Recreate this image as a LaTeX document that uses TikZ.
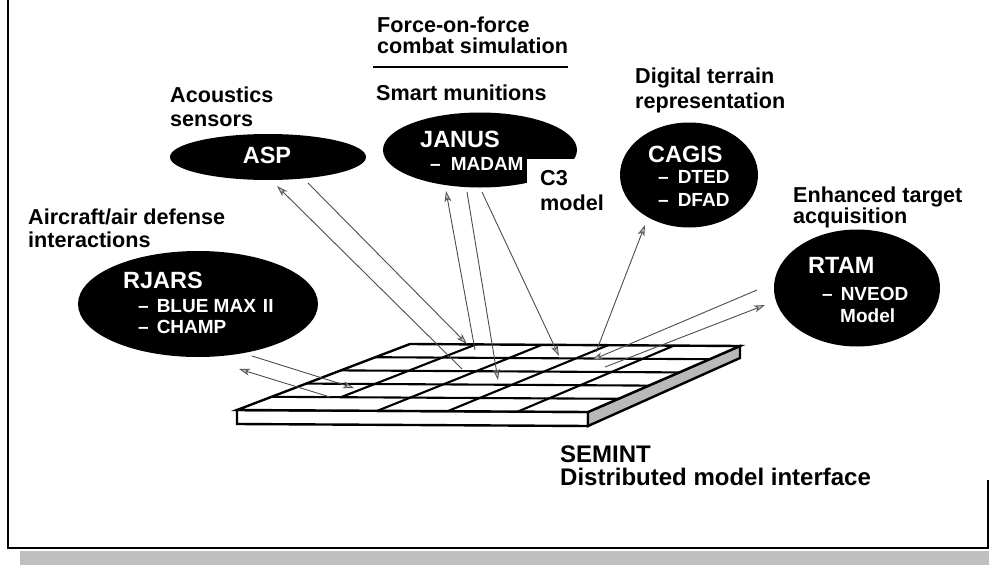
\documentclass[tikz,border=0pt]{standalone}
\usepackage{fontspec}
\setmainfont{Liberation Sans}
\usetikzlibrary{calc,arrows.meta,shapes.geometric}
\begin{document}
\begin{tikzpicture}[x=1pt,y=-1pt,
  lab/.style={anchor=base west,inner sep=0pt,font=\fontsize{21.6}{24}\selectfont\bfseries},
  big/.style={anchor=base west,inner sep=0pt,font=\fontsize{24}{26}\selectfont\bfseries},
  nm/.style={anchor=base west,inner sep=0pt,text=white,font=\fontsize{23.5}{26}\selectfont\bfseries},
  sub/.style={anchor=base west,inner sep=0pt,text=white,font=\fontsize{19}{22}\selectfont\bfseries},
  blob/.style={ellipse,fill=black,draw=none,inner sep=0pt},
  link/.style={draw=black!70,line width=0.9pt,-{Stealth[length=11pt,width=7pt,inset=3pt,fill=gray!45,color=black!65]}},
  edge3/.style={line width=2.4pt,line join=miter},
  gridln/.style={line width=2.1pt,line cap=butt}]
\useasboundingbox (0,0) rectangle (989,565);
% frame
\draw[line width=2pt] (8,0) -- (8,548) -- (988,548) -- (988,480);
\fill[gray!50] (20,551) rectangle (989,565);

% slab
\coordinate (FL) at (237,410);
\coordinate (FR) at (588,412);
\coordinate (BR) at (740,346);
\coordinate (BL) at (410,344);
\coordinate (FLb) at (237,424);
\coordinate (FRb) at (588,426);
\coordinate (BRb) at (740,358);
\draw[edge3,fill=white] (FL) -- (FR) -- (FRb) -- (FLb) -- cycle;
\draw[edge3,fill=gray!55] (FR) -- (BR) -- (BRb) -- (FRb) -- cycle;
\draw[edge3,fill=white] (FL) -- (FR) -- (BR) -- (BL) -- cycle;
\foreach \v in {0.2,0.4,0.6,0.8}
  \draw[gridln] ($(FL)!\v!(BL)$) -- ($(FR)!\v!(BR)$);
\foreach \va/\vb/\ulist in {0/0.2/{0.4,0.6,0.8},0.2/1/{0.2,0.4,0.6,0.8}}{
  \foreach \u in \ulist {
    \draw[gridln] ($($(FL)!\u!(FR)$)!\va!($(BL)!\u!(BR)$)$) -- ($($(FL)!\u!(FR)$)!\vb!($(BL)!\u!(BR)$)$);
  }
}

% ellipses
\node[blob,minimum width=196pt,minimum height=46pt] (asp) at (268,157) {};
\node[blob,minimum width=194pt,minimum height=75pt] (janus) at (480,150) {};
\fill[white] (527,159) rectangle (586,193);
\node[blob,minimum width=138pt,minimum height=105pt] (cagis) at (689,175) {};
\node[blob,minimum width=166pt,minimum height=117pt] (rtam) at (857,288) {};
\node[blob,minimum width=240pt,minimum height=106pt] (rjars) at (198,304) {};

% ellipse texts
\node[nm,anchor=base] (asptx) at (267,163) {ASP};
\node[nm] (janustx) at (420,147) {JANUS};
\node[sub] (madam) at (430,170) {–\hspace{10pt}MADAM};
\node[nm] (cagistx) at (648,162) {CAGIS};
\node[sub] (dted) at (658,183) {–\hspace{9pt}DTED};
\node[sub] (dfad) at (658,206) {–\hspace{9pt}DFAD};
\node[nm] (rtamtx) at (808,273) {RTAM};
\node[sub] (nveod) at (822,300) {–\hspace{8pt}NVEOD};
\node[sub] (model) at (840,322) {Model};
\node[nm] (rjarstx) at (123,288) {RJARS};
\node[sub] (bluemax) at (138,312) {–\hspace{8pt}BLUE MAX\hspace{7pt}II};
\node[sub] (champ) at (138,333) {–\hspace{8pt}CHAMP};

% labels
\node[lab] (acou1) at (170,102) {Acoustics};
\node[lab] (acou2) at (170,126) {sensors};
\node[lab] (air1) at (28,224) {Aircraft/air defense};
\node[lab] (air2) at (28,247) {interactions};
\node[lab] (force1) at (377,32) {Force-on-force};
\node[lab] (force2) at (377,53) {combat simulation};
\draw[line width=1.5pt] (373,67) -- (568,67);
\node[lab] (smart) at (376,100) {Smart munitions};
\node[lab] (dig1) at (635,83) {Digital terrain};
\node[lab] (dig2) at (635,108) {representation};
\node[lab] (enh1) at (793,202) {Enhanced target};
\node[lab] (enh2) at (793,223) {acquisition};
\node[lab] (c3a) at (540,185) {C3};
\node[lab] (c3b) at (540,210) {model};
\node[big] (semint1) at (560,462) {SEMINT};
\node[big] (semint2) at (560,485) {Distributed model interface};

% connector end points
\coordinate (aspA) at (277,186);
\coordinate (aspB) at (308,183);
\coordinate (janA) at (446,191);
\coordinate (janB) at (467,192);
\coordinate (janC) at (482,192);
\coordinate (cagA) at (645,225);
\coordinate (rtA) at (757,290);
\coordinate (rtB) at (765,305);
\coordinate (rjA) at (252,356);
\coordinate (rjB) at (239,369);
\coordinate (gA1) at (462,369);
\coordinate (gA2) at (467,344);
\coordinate (gJ1) at (475,350);
\coordinate (gJ2) at (498,380);
\coordinate (gJ3) at (559,356);
\coordinate (gC1) at (596,352);
\coordinate (gR1) at (592,360);
\coordinate (gR2) at (605,367);
\coordinate (gRJ1) at (354,388);
\coordinate (gRJ2) at (330,397);

% connectors
\draw[link] (gA1) -- (aspA);
\draw[link] (aspB) -- (gA2);
\draw[link] (gJ1) -- (janA);
\draw[link] (janB) -- (gJ2);
\draw[link] (janC) -- (gJ3);
\draw[link] (gC1) -- (cagA);
\draw[link] (rtA) -- (gR1);
\draw[link] (gR2) -- (rtB);
\draw[link] (rjA) -- (gRJ1);
\draw[link] (gRJ2) -- (rjB);
\end{tikzpicture}
\end{document}
